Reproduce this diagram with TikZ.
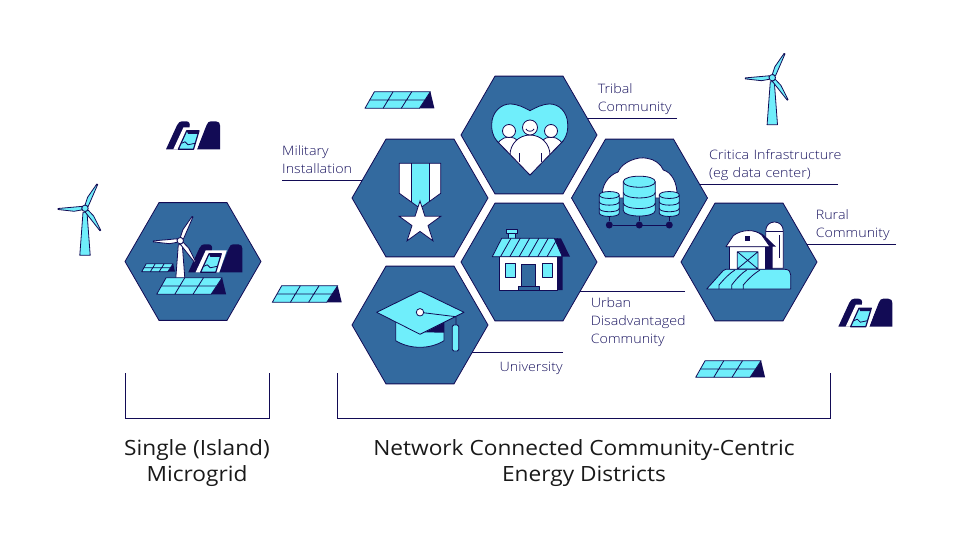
\documentclass[tikz,border=0pt]{standalone}
\usepackage{fontspec}
\setmainfont{Open Sans Light}[FakeStretch=1.1]
\newfontfamily\headfont{Open Sans}[FakeStretch=1.08]
\usetikzlibrary{positioning,backgrounds,shapes.geometric}

\definecolor{hexblue}{HTML}{336A9F}
\definecolor{skycol}{HTML}{6FEEFB}
\definecolor{navy}{HTML}{120B55}
\definecolor{inkcol}{HTML}{1A1560}

\tikzset{
	hexcell/.style={regular polygon,regular polygon sides=6,minimum size=136pt,inner sep=0pt,outer sep=0pt,fill=hexblue,draw=navy,line width=.8pt},
	shape line/.style={draw=navy,line width=.8pt,line join=round},
	note/.style={font=\fontsize{13}{18}\selectfont,text=inkcol,inner sep=0pt},
	head/.style={font=\headfont\fontsize{21}{26}\selectfont,text=black!90,align=center,inner sep=0pt},
	leader/.style={draw=navy,line width=.9pt},
	netdot/.style={circle,fill=navy,minimum size=7pt,inner sep=0pt},
	pics/turbine/.style={code={
		\draw[shape line,fill=#1] (-5.2,47) -- (5.2,47) -- (2,4) -- (-2,4) -- cycle;
		\foreach \ang in {63,181.5,304.7}
			\draw[shape line,fill=#1,rotate=\ang] (3,-1.5) -- (11,-2.7) -- (27,-.5) -- (27,.5) -- (3,2) -- cycle;
		\draw[shape line,fill=#1] (0,0) circle (3.2);
	}},
	pics/panelunit/.style={code={
		\fill[navy] (65.4,-16.6) -- (69.4,0) -- (54,0) -- cycle;
		\draw[shape line,fill=skycol] (0,0) -- (9.4,-16.6) -- (65.4,-16.6) -- (54.4,0) -- cycle;
		\draw[shape line] (4.7,-8.3) -- (59.9,-8.3) (28.1,-16.6) -- (18.1,0) (46.8,-16.6) -- (36.3,0);
	}},
	pics/damunit/.style={code={
		\fill[navy] (0,0) -- (11,-24) .. controls (12.5,-27) and (14,-28) .. (16,-28) -- (20,-28) .. controls (23,-28) and (24.5,-26) .. (23.5,-22) -- (14,0) -- cycle;
		\fill[navy] (31,0) -- (40.5,-24) .. controls (41.5,-27) and (43,-28) .. (45,-28) -- (50,-28) .. controls (53,-28) and (54,-26) .. (54,-24) -- (54,0) -- cycle;
		\fill[white] (7.3,0) -- (17.5,-22) -- (38.5,-22) -- (31,0) -- cycle;
		\draw[draw=navy,line width=1.2pt,line join=round,fill=skycol] (12.3,0) -- (20.7,-18.5) -- (33,-18.5) -- (27.5,0) -- cycle;
		\fill[navy] (20.7,-18.5) -- (33,-18.5) -- (32,-15.5) -- (22,-15.5) -- cycle;
		\draw[shape line] (15.5,-6) -- (19,-7.5) -- (22,-4.5) -- (29,-6);
	}},
	pics/dbstack/.style={code={
		\draw[shape line,fill=skycol] (-10,0) -- (-10,18) .. controls (-10,22.6) and (10,22.6) .. (10,18) -- (10,0) .. controls (10,-4.6) and (-10,-4.6) .. (-10,0) -- cycle;
		\foreach \lev in {0,6.7,13.3}
			\draw[shape line] (-10,\lev) .. controls (-10,\lev+4.6) and (10,\lev+4.6) .. (10,\lev);
	}}
}

\begin{document}
\begin{tikzpicture}[x=1pt,y=-1pt]
	\useasboundingbox (0,0) rectangle (962,544);

	% Hexagon cells
	\foreach \px/\py/\cell in {193/261.5/hexSingle,420/198/hexMil,529/135/hexTribal,529/262/hexUrban,420/325/hexUni,639.5/198/hexData,749/262/hexRural}
		\node[hexcell] (\cell) at (\px,\py) {};

	% Labels and their lines
	\node[note,anchor=south west,text width=78pt,align=left,inner ysep=.8pt] (labMil) at (282,180.3) {Military\\Installation\strut};
	\node[note,anchor=south east,text width=79pt,align=left,inner ysep=.8pt] (labTribal) at (677,118.3) {Tribal\\Community\strut};
	\node[note,anchor=south west,text width=150pt,align=left,inner ysep=.8pt] (labData) at (709,184.3) {Critica Infrastructure\\(eg data center)\strut};
	\coordinate (labDataEnd) at (838,184.3);
	\node[note,anchor=south east,text width=80pt,align=left,inner ysep=.8pt] (labRural) at (896,244) {Rural\\Community\strut};
	\node[note,anchor=north east,text width=94pt,align=left,inner ysep=6.5pt] (labUrban) at (685,291) {Urban\\Disadvantaged\\Community};
	\node[note,anchor=north east,text width=80pt,align=right,inner ysep=9pt] (labUni) at (563,352.7) {University};
	\begin{scope}[on background layer]
		\draw[leader] (labMil.south west) -- (labMil.south west -| hexMil);
		\draw[leader] (labTribal.south east) -- (labTribal.south east -| hexTribal);
		\draw[leader] (labDataEnd) -- (labDataEnd -| hexData);
		\draw[leader] (labRural.south east) -- (labRural.south east -| hexRural);
		\draw[leader] (labUrban.north east) -- (labUrban.north east -| hexUrban);
		\draw[leader] (labUni.north east) -- (labUni.north east -| hexUni);
	\end{scope}

	% Brackets and titles
	\coordinate (brSingleL) at (125,373);
	\coordinate (brSingleR) at (269,373);
	\coordinate (brNetL) at (337,373);
	\coordinate (brNetR) at (830,373);
	\draw[leader] (brSingleL) -- ++(0,45) -| (brSingleR);
	\draw[leader] (brNetL) -- ++(0,45) -| (brNetR);
	\node[head] (titleSingle) at (197,463) {Single (Island)\\Microgrid};
	\node[head] (titleNet) at (584,463) {Network Connected Community-Centric\\Energy Districts};

	% Loose icons
	\pic at (85,208.3) {turbine=skycol};
	\pic at (772.3,77.7) {turbine=skycol};
	\pic at (272.3,302.3) {panelunit};
	\pic at (365,108.3) {panelunit};
	\pic at (695.7,377.3) {panelunit};
	\pic at (166,149.3) {damunit};
	\pic at (838.3,326.7) {damunit};

	% Single microgrid
	\pic at (188.3,272.3) {damunit};
	\pic at (180.3,240.7) {turbine=white};
	\pic at (156.7,294.3) {panelunit};
	\pic[scale=.48] at (141.7,271.7) {panelunit};

	% Medal
	\fill[white] (399.3,163.3) -- (440.7,163.3) -- (440.7,193.3) -- (420,208.3) -- (399.3,193.3) -- cycle;
	\fill[skycol] (411.7,163.3) -- (429,163.3) -- (429,202) -- (420,208.3) -- (411.7,202) -- cycle;
	\draw[shape line] (399.3,163.3) -- (440.7,163.3) -- (440.7,193.3) -- (420,208.3) -- (399.3,193.3) -- cycle;
	\draw[shape line] (411.7,163.3) -- (411.7,202) (429,163.3) -- (429,202);
	\node[star,star points=5,star point ratio=2.618,minimum size=44pt,inner sep=0pt,fill=white,draw=navy,line width=.8pt] (medalStar) at (420,223) {};

	% Heart with people
	\draw[shape line,fill=skycol] (530,175) -- (497,141) .. controls (492,135) and (491.5,129) .. (491.7,124) .. controls (492,112) and (501,104) .. (510,104) .. controls (518,104) and (525,108) .. (530,110.7) .. controls (535,108) and (542,104) .. (550,104) .. controls (559,104) and (567.4,112) .. (567.7,124) .. controls (568,129) and (567.5,135) .. (563,141) -- cycle;
	\begin{scope}
		\clip (530,175) -- (497,141) -- (497,120) -- (563,120) -- (563,141) -- cycle;
		\draw[shape line,fill=white] (509,150) circle (13);
		\draw[shape line,fill=white] (551,150) circle (13);
		\draw[shape line,fill=white] (530,155) circle (20);
		\draw[shape line] (519,153) -- (519,162) (541,153) -- (541,162);
	\end{scope}
	\draw[shape line] (530,175) -- (497,141) (530,175) -- (563,141);
	\draw[shape line,fill=white] (509,131) circle (6.5);
	\draw[shape line,fill=white] (551,131) circle (6.5);
	\draw[shape line,fill=white] (530,127.5) circle (7.5);
	\draw[shape line] (526,129) .. controls (527,132) and (533,132) .. (534,129);

	% House
	\draw[shape line,fill=skycol] (506.7,229.7) rectangle (517.3,233);
	\draw[shape line,fill=skycol] (508.3,233) rectangle (515.7,239);
	\fill[navy] (554.3,238.3) -- (561,238.3) -- (570,256.7) -- (562.7,256.7) -- (562.7,290) -- (557,290) -- (557,256) -- cycle;
	\draw[shape line,fill=white] (499,256.7) rectangle (557.3,290);
	\draw[shape line,fill=skycol] (501.7,238.3) -- (554.3,238.3) -- (562.3,256.7) -- (492.3,256.7) -- cycle;
	\foreach \sx in {0,...,5}
		\draw[shape line] (500.5+9.3*\sx,256.7) -- (511+9.3*\sx,238.3);
	\draw[shape line,fill=skycol] (505,263.3) rectangle (515,277.3);
	\draw[shape line,fill=skycol] (542.3,263.3) rectangle (552.7,277.3);
	\draw[shape line,fill=hexblue] (521,264.3) rectangle (535.7,286.3);
	\draw[shape line,fill=hexblue] (518.3,286.3) rectangle (539,290);

	% Cap
	\draw[shape line,fill=skycol] (395.7,318) -- (395.7,340.7) .. controls (410,349.5) and (430,349.5) .. (444,340.7) -- (444,318) -- cycle;
	\fill[navy] (425,332.3) -- (444,322.3) -- (444,332.7) -- cycle;
	\draw[shape line,fill=skycol] (376.7,312.3) -- (420,291) -- (464,312.3) -- (420,334.3) -- cycle;
	\draw[shape line] (420,312.3) -- (456,316.7) -- (456,325);
	\draw[shape line,fill=white] (420,312.3) circle (3.7);
	\draw[shape line,fill=skycol,rounded corners=1.5pt] (452.3,351) -- (452.3,325) -- (458.7,325) -- (458.7,351) -- cycle;

	% Data centre
	\draw[shape line,fill=white] (603,198) .. controls (600,186) and (609,175) .. (618,172) .. controls (622,162) and (638,156) .. (647,158.3) .. controls (654,159) and (661,164) .. (663.3,170) .. controls (671,172) and (678,182) .. (677,198) -- cycle;
	\node[netdot] (dotLeft) at (609.3,225) {};
	\node[netdot] (dotMid) at (639.3,225) {};
	\node[netdot] (dotRight) at (669.3,225) {};
	\draw[leader] (dotLeft) -- (dotRight);
	\draw[leader] (dotLeft) -- (609.3,215);
	\draw[leader] (dotMid) -- (639.3,215);
	\draw[leader] (dotRight) -- (669.3,215);
	\pic at (609.3,195) {dbstack};
	\pic at (669.3,195) {dbstack};
	\pic[scale=1.6] at (639.3,181.7) {dbstack};

	% Farm
	\draw[shape line,fill=white] (765.7,268.3) -- (765.7,231) .. controls (765.7,219) and (783.3,219) .. (783.3,231) -- (783.3,268.3) -- cycle;
	\draw[shape line] (765.7,231.7) -- (783.3,231.7) (779.3,235) -- (779.3,258);
	\fill[navy] (746.7,230.7) .. controls (755,230) and (763,233) .. (767,238) -- (776,246.7) -- (772.7,246.7) -- (772.7,269) -- (765,269) -- (765,246) -- cycle;
	\draw[shape line,fill=white] (729.3,246.7) rectangle (765,269);
	\draw[shape line,fill=white] (726,246.7) -- (733.3,235.7) .. controls (742,229) and (755,229) .. (761.7,235) -- (770,246.7) -- cycle;
	\fill[navy] (745,236) rectangle (750,241);
	\draw[shape line,fill=skycol] (737.3,251.7) rectangle (758,269) (737.3,251.7) -- (758,269) (758,251.7) -- (737.3,269);
	\draw[shape line,fill=skycol] (706.7,289) -- (723.3,270.5) .. controls (724,270) and (725,269.3) .. (726,269.3) -- (785,269.3) .. controls (789,269.3) and (790.7,272) .. (790.7,275) -- (790.7,289) -- cycle;
	\draw[shape line] (719,289) -- (719,285) .. controls (725,278) and (730,273) .. (735,270);
	\draw[shape line] (731.7,289) -- (731.7,285) .. controls (737,278) and (742,273) .. (746.7,270);
	\draw[shape line] (743.3,289) -- (743.3,285) .. controls (749,278) and (755,273) .. (760,270);
\end{tikzpicture}
\end{document}
